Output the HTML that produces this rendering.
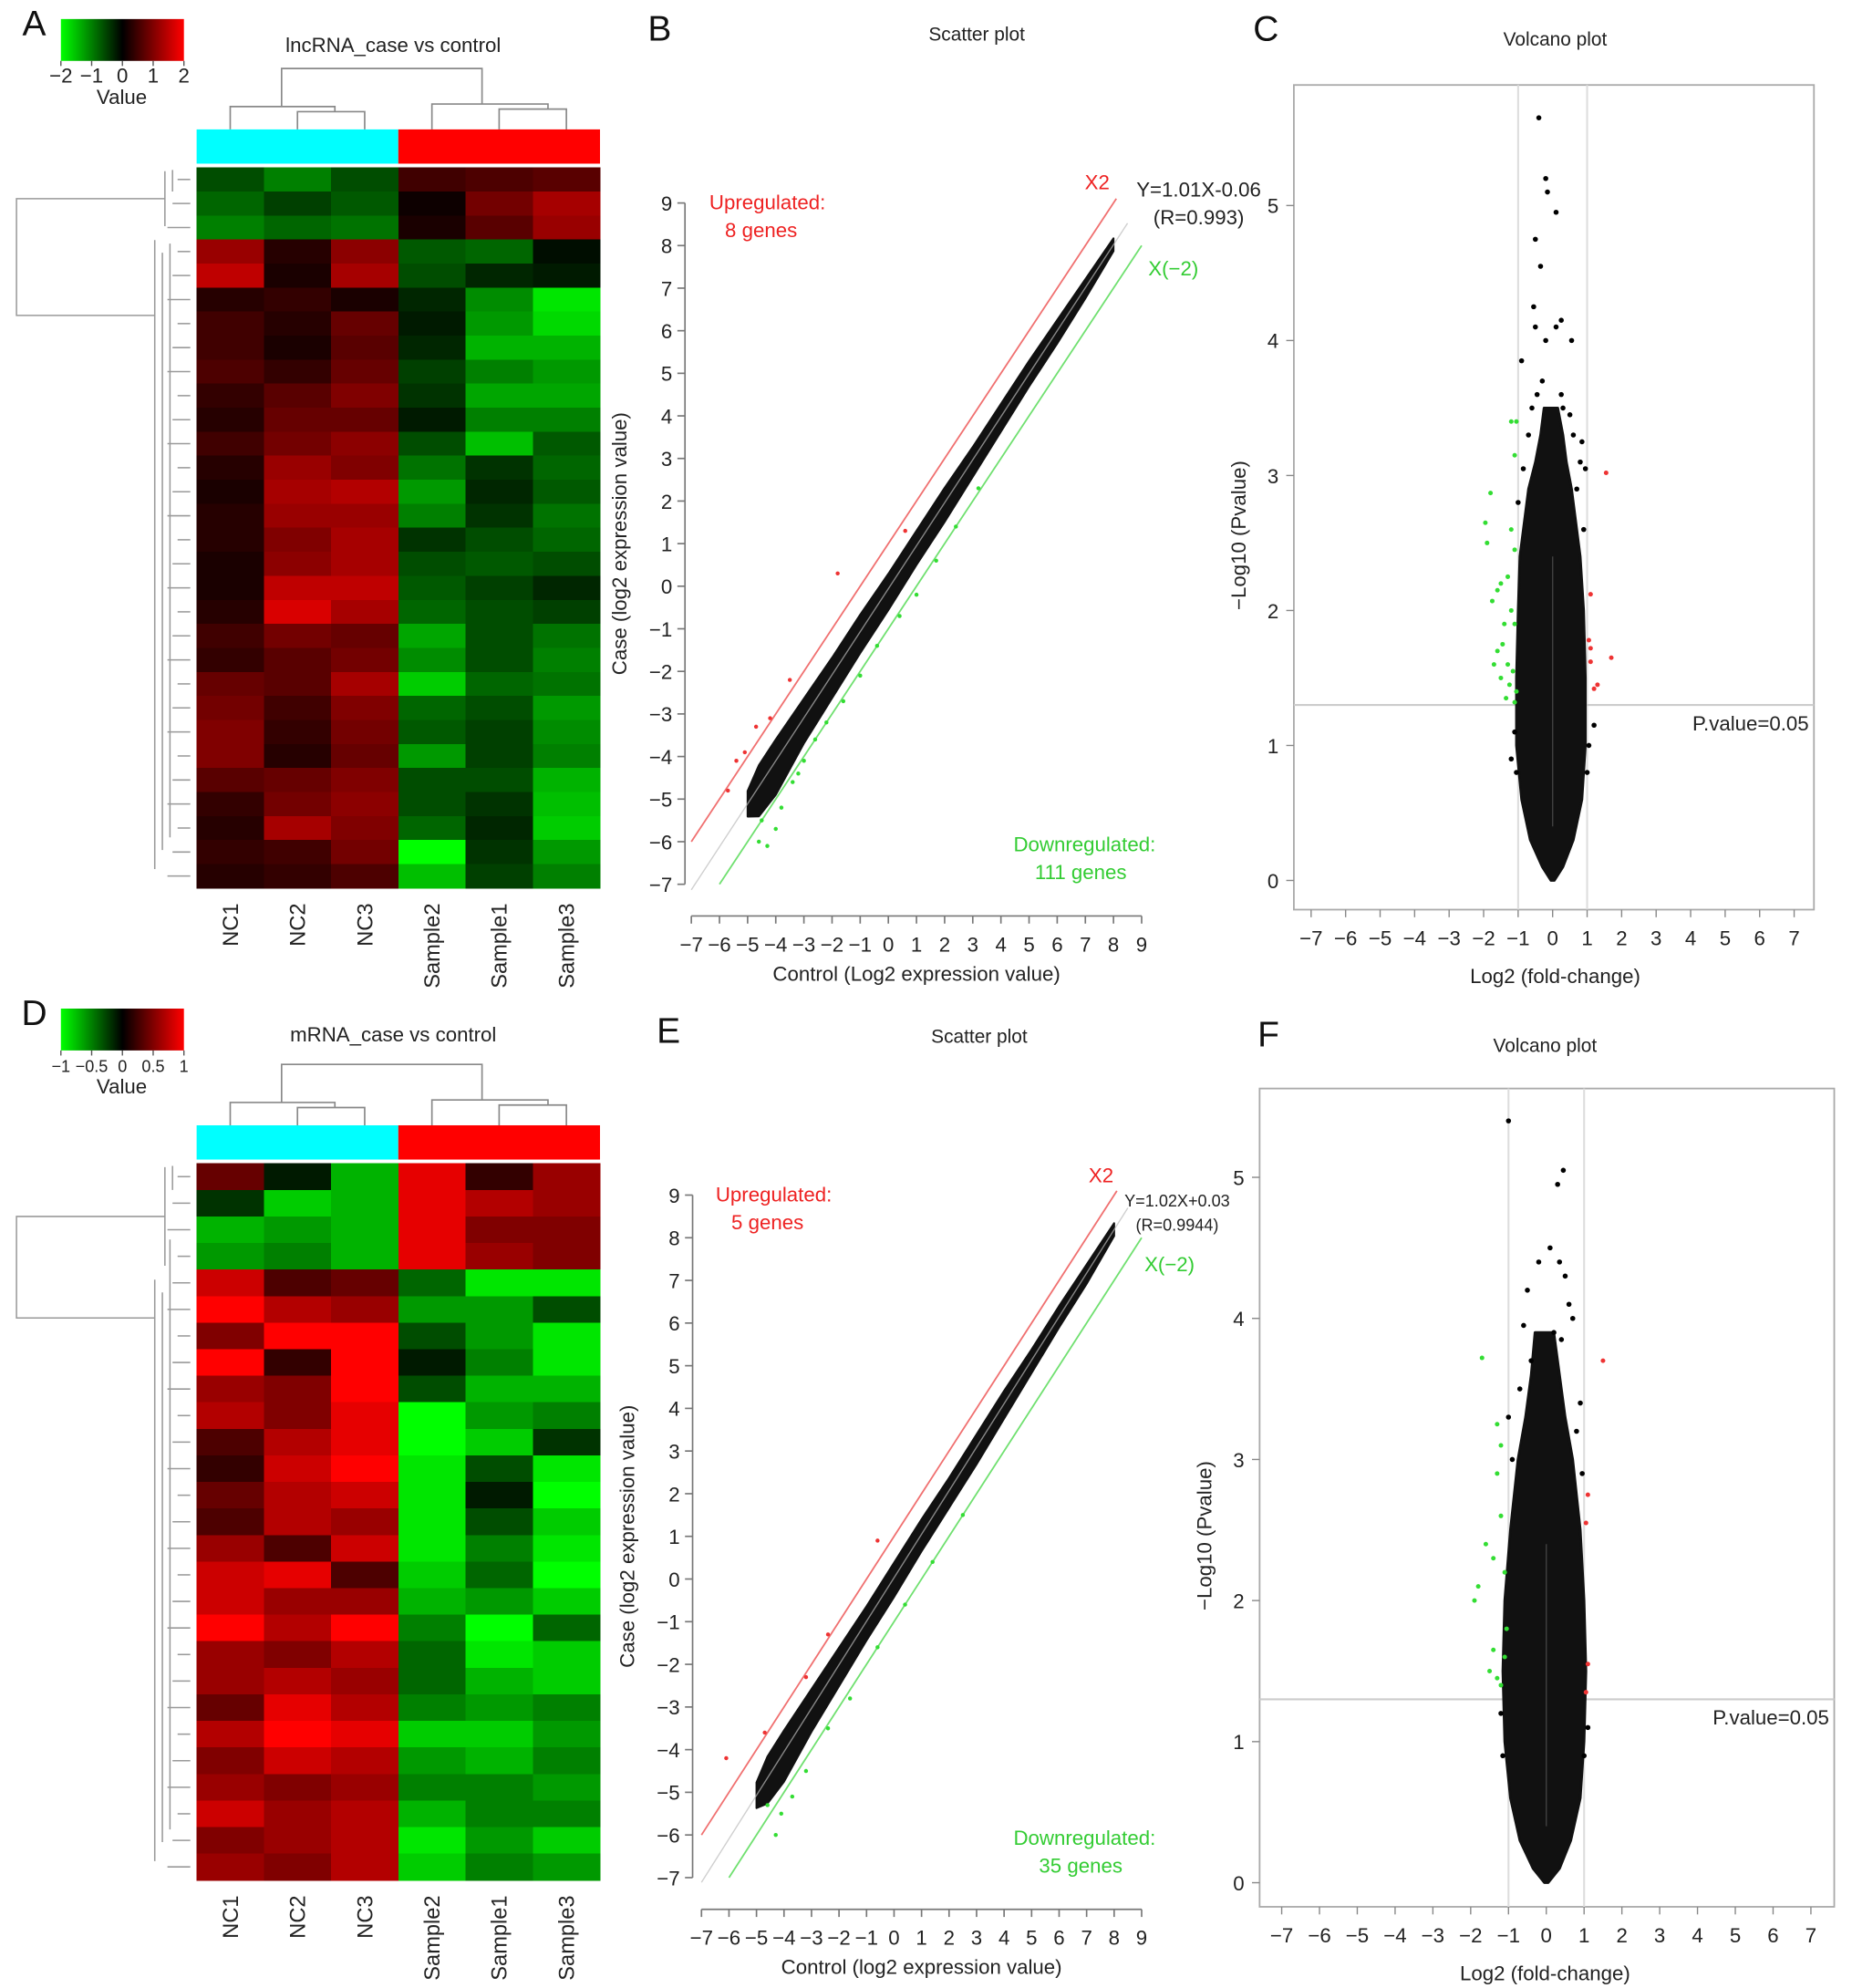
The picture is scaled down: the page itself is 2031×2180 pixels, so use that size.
<!DOCTYPE html>
<html><head><meta charset="utf-8"><style>
html,body{margin:0;padding:0;background:#fff}
svg{display:block;font-family:"Liberation Sans",sans-serif}
</style></head><body>
<svg id="fig" width="2031" height="2180" viewBox="0 0 1460 1567" preserveAspectRatio="none" xmlns="http://www.w3.org/2000/svg">
<rect width="1460" height="1567" fill="#fff"/>
<g id="root"></g>
</svg>
<script>
// ---------- DATA ----------
const heatCols = ["NC1","NC2","NC3","Sample2","Sample1","Sample3"];
const heatA = [
[-0.6,-1.0,-0.6,0.5,0.6,0.7],[-0.8,-0.5,-0.7,0.1,0.9,1.3],[-1.0,-0.8,-0.9,0.2,0.7,1.2],
[1.2,0.3,1.1,-0.7,-0.8,-0.1],[1.5,0.2,1.3,-0.6,-0.3,-0.2],[0.3,0.4,0.2,-0.3,-1.1,-1.8],
[0.5,0.3,0.8,-0.2,-1.2,-1.7],[0.5,0.2,0.7,-0.3,-1.4,-1.4],[0.6,0.4,0.8,-0.5,-1.0,-1.2],
[0.4,0.7,1.0,-0.4,-1.3,-1.3],[0.3,0.8,0.8,-0.2,-1.0,-1.0],[0.5,0.9,1.1,-0.6,-1.5,-0.7],
[0.3,1.2,1.0,-0.9,-0.4,-0.8],[0.2,1.3,1.4,-1.2,-0.3,-0.7],[0.3,1.2,1.2,-1.0,-0.4,-0.9],
[0.3,1.0,1.3,-0.4,-0.6,-0.8],[0.2,1.1,1.3,-0.6,-0.7,-0.6],[0.2,1.5,1.5,-0.7,-0.5,-0.3],
[0.3,1.7,1.3,-0.8,-0.6,-0.5],[0.5,0.9,0.8,-1.3,-0.6,-0.9],[0.4,0.7,0.9,-1.1,-0.6,-1.0],
[0.8,0.7,1.3,-1.6,-0.8,-0.9],[0.9,0.5,1.0,-0.8,-0.6,-1.2],[1.0,0.4,0.9,-0.7,-0.5,-1.1],
[1.0,0.3,0.8,-1.2,-0.5,-1.0],[0.7,0.8,1.0,-0.6,-0.6,-1.4],[0.4,0.9,1.1,-0.6,-0.4,-1.5],
[0.3,1.3,1.0,-0.8,-0.3,-1.6],[0.4,0.5,0.9,-2.0,-0.4,-1.2],[0.3,0.4,0.6,-1.5,-0.5,-1.0]];
const heatD = [
[0.4,-0.1,-0.7,0.9,0.2,0.6],[-0.2,-0.8,-0.7,0.9,0.7,0.6],[-0.7,-0.6,-0.7,0.9,0.5,0.5],
[-0.6,-0.5,-0.7,0.9,0.6,0.5],[0.8,0.3,0.4,-0.4,-0.9,-0.9],[1.0,0.7,0.6,-0.6,-0.6,-0.3],
[0.5,1.0,1.0,-0.3,-0.6,-0.9],[1.0,0.2,1.0,-0.1,-0.5,-0.9],[0.6,0.5,1.0,-0.3,-0.7,-0.7],
[0.7,0.5,0.9,-1.0,-0.6,-0.5],[0.3,0.7,0.9,-1.0,-0.8,-0.2],[0.2,0.8,1.0,-0.9,-0.3,-0.9],
[0.4,0.7,0.8,-0.9,-0.1,-1.0],[0.3,0.7,0.6,-0.9,-0.3,-0.8],[0.6,0.3,0.8,-0.9,-0.5,-0.9],
[0.8,0.9,0.3,-0.8,-0.4,-1.0],[0.8,0.6,0.6,-0.7,-0.6,-0.8],[1.0,0.7,1.0,-0.5,-1.0,-0.4],
[0.6,0.5,0.7,-0.4,-0.9,-0.8],[0.6,0.7,0.6,-0.4,-0.7,-0.8],[0.4,0.9,0.7,-0.5,-0.6,-0.5],
[0.7,1.0,0.9,-0.8,-0.8,-0.6],[0.5,0.8,0.7,-0.6,-0.7,-0.5],[0.6,0.5,0.6,-0.5,-0.5,-0.6],
[0.8,0.6,0.7,-0.7,-0.5,-0.5],[0.5,0.6,0.7,-0.9,-0.6,-0.8],[0.6,0.5,0.7,-0.8,-0.5,-0.6]];
const legendTicksA = ["−2","−1","0","1","2"];
const legendTicksD = ["−1","−0.5","0","0.5","1"];
const scatterTicks = [-7,-6,-5,-4,-3,-2,-1,0,1,2,3,4,5,6,7,8,9];
const cloudXB = [-5.0,-4.6,-4,-3,-2,-1,0,1,2,3,4,5,6,7,8];
const cloudLoB = [-0.3,-0.7,-0.8,-0.6,-0.55,-0.5,-0.5,-0.45,-0.45,-0.4,-0.35,-0.3,-0.3,-0.25,-0.15];
const cloudHiB = [0.3,0.5,0.5,0.45,0.4,0.4,0.35,0.35,0.35,0.3,0.3,0.3,0.25,0.2,0.15];
const redB = [[-5.7,-4.8],[-5.4,-4.1],[-5.1,-3.9],[-4.7,-3.3],[-4.2,-3.1],[-3.5,-2.2],[-1.8,0.3],[0.6,1.3]];
const greenB = [[-4.6,-6.0],[-4.3,-6.1],[-4.0,-5.7],[-3.8,-5.2],[-3.4,-4.6],[-3.0,-4.1],[-2.6,-3.6],[-2.2,-3.2],[-1.6,-2.7],[-1.0,-2.1],[-0.4,-1.4],[0.4,-0.7],[1.0,-0.2],[1.7,0.6],[2.4,1.4],[3.2,2.3],[-3.2,-4.4],[-4.5,-5.5]];
const cloudXE = [-5.0,-4.6,-4,-3,-2,-1,0,1,2,3,4,5,6,7,8];
const cloudLoE = [-0.3,-0.6,-0.7,-0.55,-0.5,-0.45,-0.45,-0.4,-0.4,-0.4,-0.35,-0.3,-0.25,-0.25,-0.15];
const cloudHiE = [0.3,0.5,0.5,0.45,0.4,0.35,0.35,0.35,0.3,0.3,0.3,0.25,0.25,0.2,0.15];
const redE = [[-6.1,-4.2],[-4.7,-3.6],[-3.2,-2.3],[-2.4,-1.3],[-0.6,0.9]];
const greenE = [[-4.3,-6.0],[-4.1,-5.5],[-3.7,-5.1],[-3.2,-4.5],[-2.4,-3.5],[-1.6,-2.8],[-0.6,-1.6],[0.4,-0.6],[1.4,0.4],[2.5,1.5],[-4.6,-5.3]];
const volcXTicks = [-7,-6,-5,-4,-3,-2,-1,0,1,2,3,4,5,6,7];
const volcYTicks = [0,1,2,3,4,5];
const volcHC = [0,0.1,0.3,0.6,1.0,1.5,2.0,2.4,2.7,2.9,3.1,3.3,3.5];
const volcLC = [-0.05,-0.3,-0.65,-0.9,-1.05,-1.05,-1.0,-0.95,-0.8,-0.7,-0.5,-0.35,-0.25];
const volcRC = [0.05,0.3,0.6,0.85,0.95,0.95,0.9,0.8,0.65,0.55,0.4,0.3,0.15];
const topC = [[-0.4,5.65],[-0.2,5.2],[-0.15,5.1],[0.1,4.95],[-0.5,4.75],[-0.35,4.55],[-0.55,4.25],[0.25,4.15],[0.1,4.1],[-0.5,4.1],[0.55,4.0],[-0.2,4.0],[-0.9,3.85],[0.25,3.6],[-0.45,3.6],[0.3,3.5],[0.85,3.25],[0.95,3.05],[0.6,3.3],[-0.7,3.3],[0.8,3.1],[-0.85,3.05],[-0.6,3.5],[0.5,3.45],[-0.3,3.7],[0.7,2.9],[-1.0,2.8],[0.9,2.6],[-1.1,1.1],[-1.2,0.9],[1.05,1.0],[1.2,1.15],[-1.05,0.8],[1.0,0.8]];
const redC = [[1.55,3.02],[1.1,2.12],[1.05,1.78],[1.1,1.72],[1.7,1.65],[1.1,1.62],[1.2,1.42],[1.3,1.45]];
const greenC = [[-1.2,3.4],[-1.05,3.4],[-1.1,3.15],[-1.8,2.87],[-1.95,2.65],[-1.9,2.5],[-1.2,2.6],[-1.1,2.45],[-1.5,2.2],[-1.3,2.25],[-1.75,2.07],[-1.6,2.15],[-1.2,2.0],[-1.1,1.9],[-1.45,1.75],[-1.6,1.7],[-1.3,1.6],[-1.15,1.55],[-1.5,1.5],[-1.25,1.45],[-1.05,1.4],[-1.35,1.35],[-1.1,1.32],[-1.7,1.6],[-1.4,1.9]];
const volcHF = [0,0.1,0.3,0.6,1.0,1.5,2.0,2.5,3.0,3.3,3.6,3.9];
const volcLF = [-0.05,-0.35,-0.7,-0.95,-1.1,-1.15,-1.1,-0.95,-0.75,-0.55,-0.4,-0.3];
const volcRF = [0.05,0.35,0.65,0.9,1.0,1.05,1.0,0.9,0.7,0.5,0.35,0.2];
const topF = [[-1.0,5.4],[0.45,5.05],[0.3,4.95],[0.1,4.5],[0.35,4.4],[0.5,4.3],[-0.5,4.2],[-0.2,4.4],[0.6,4.1],[-0.6,3.95],[0.2,3.9],[0.7,4.0],[-0.4,3.7],[0.4,3.85],[-1.0,3.3],[0.9,3.4],[-0.7,3.5],[0.8,3.2],[-0.9,3.0],[0.95,2.9],[-1.2,1.2],[1.1,1.1],[-1.15,0.9],[1.0,0.9]];
const redF = [[1.5,3.7],[1.1,2.75],[1.05,2.55],[1.1,1.55],[1.05,1.35]];
const greenF = [[-1.7,3.72],[-1.2,3.1],[-1.3,2.9],[-1.9,2.0],[-1.8,2.1],[-1.4,2.3],[-1.1,1.6],[-1.5,1.5],[-1.3,1.45],[-1.2,2.6],[-1.05,1.8],[-1.4,1.65],[-1.2,1.4],[-1.6,2.4],[-1.1,2.2],[-1.3,3.25]];

// ---------- helpers ----------
const NS="http://www.w3.org/2000/svg";
const root=document.getElementById('root');
function mk(tag,attrs,parent,text){const e=document.createElementNS(NS,tag);for(const k in attrs)e.setAttribute(k,attrs[k]);if(text!==undefined)e.textContent=text;(parent||root).appendChild(e);return e;}
function txt(x,y,s,size,fill,parent,anchor,extra){return mk('text',Object.assign({x:x,y:y,'font-size':size,fill:fill||'#222','text-anchor':anchor||'middle'},extra||{}),parent,s);}
function heatColor(v,max){let t=Math.max(-1,Math.min(1,v/max));if(t>=0)return `rgb(${Math.round(255*t)},0,0)`;return `rgb(0,${Math.round(255*-t)},0)`;}

// ---------- heatmap panel ----------
function heatPanel(data,max,y0,top,hh,title,letter,legTicks,prefix,splitRows){
  const g=mk('g',{});
  
  
  txt(27,y0-7,letter,28,'#111',g);
  const lg=mk('g',{},g);
  
  
  const gid=prefix+'grad';
  const defs=mk('defs',{},lg);const lin=mk('linearGradient',{id:gid},defs);
  mk('stop',{offset:'0','stop-color':'#00ff00'},lin);mk('stop',{offset:'0.5','stop-color':'#000'},lin);mk('stop',{offset:'1','stop-color':'#ff0000'},lin);
  mk('rect',{x:48,y:y0-20,width:97,height:33,fill:`url(#${gid})`},lg);
  legTicks.forEach((s,i)=>{const x=48+i*97/(legTicks.length-1);mk('line',{x1:x,x2:x,y1:y0+13,y2:y0+17,stroke:'#555'},lg);txt(x,y0+30,s,prefix==='d'?13:16,'#222',lg);});
  txt(96,y0+47,'Value',16,'#222',lg);
  const T=txt(310,y0+6,title,16,'#222',g);
  
  
  const hx=155, hw=318, cw=hw/6;
  const cc=i=>hx+cw*(i+0.5);
  const dg=mk('g',{stroke:'#888',fill:'none','stroke-width':1.2},g);
  
  
  const bt=top-30;
  mk('path',{d:`M222 ${bt-18}V${bt-48}H380V${bt-20}`},dg);
  mk('path',{d:`M${cc(0)} ${bt}V${bt-18}H264V${bt-14}`},dg);
  mk('path',{d:`M${cc(1)} ${bt}V${bt-14}H${cc(2)}V${bt}`},dg);
  mk('path',{d:`M${cc(3)} ${bt}V${bt-20}H432V${bt-16}`},dg);
  mk('path',{d:`M${cc(4)} ${bt}V${bt-16}H${cc(5)}V${bt}`},dg);
  const cb=mk('rect',{x:hx,y:bt,width:hw/2,height:27,fill:'#00ffff'},g);
  
  
  const rb=mk('rect',{x:hx+hw/2,y:bt,width:hw/2,height:27,fill:'#ff0000'},g);
  
  
  const rh=hh/data.length;
  const cg=mk('g',{'shape-rendering':'crispEdges'},g);
  
  
  data.forEach((row,r)=>row.forEach((v,c)=>{
    const cell=mk('rect',{x:hx+c*cw,y:top+r*rh,width:cw+0.5,height:rh+0.5,fill:heatColor(v,max)},cg);
    
    
  }));
  const rg=mk('g',{stroke:'#999',fill:'none','stroke-width':1.1},g);
  
  
  const topMid=top+rh*splitRows/2, restTop=top+rh*splitRows+8;
  mk('path',{d:`M130 ${topMid}H13V${topMid+(prefix==='a'?92:80)}H122`},rg);
  for(let r=0;r<data.length;r++){const y=top+(r+0.5)*rh;mk('path',{d:`M${150} ${y}H${140-(r%3)*4}`},rg);}
  mk('path',{d:`M122 ${restTop}V${top+hh-15}M128 ${restTop+10}V${top+hh-30}M134 ${top+60}V${top+hh-40}`},rg);
  mk('path',{d:`M130 ${top+3}V${top+rh*splitRows-3}M136 ${top+2}V${top+rh}`},rg);
  heatCols.forEach((s,i)=>{const t=txt(0,0,s,17,'#222',g,'end',{transform:`translate(${cc(i)+6},${top+hh+12}) rotate(-90)`});
    
    });
}
heatPanel(heatA,2,35,132,568,'lncRNA_case vs control','A',legendTicksA,'a',2.6);
heatPanel(heatD,1,815,917,565,'mRNA_case vs control','D',legendTicksD,'d',4);

// ---------- scatter ----------
function scatterPanel(cfg){
  const g=mk('g',{});
  
  
  const X=v=>cfg.x0+(v+7)*(cfg.x1-cfg.x0)/16;
  const Y=v=>cfg.y0-(v+7)*(cfg.y0-cfg.y1)/16;
  txt(cfg.lx,cfg.ly,cfg.letter,28,'#111',g);
  txt(cfg.tx,cfg.ly,'Scatter plot',15,'#222',g);
  const ax=mk('g',{stroke:'#777','stroke-width':1.2},g);
  
  
  mk('line',{x1:cfg.ax,x2:cfg.ax,y1:Y(-7),y2:Y(9)},ax);
  mk('line',{x1:X(-7),x2:X(9),y1:cfg.ay,y2:cfg.ay},ax);
  scatterTicks.forEach(v=>{
    mk('line',{x1:cfg.ax,x2:cfg.ax-6,y1:Y(v),y2:Y(v)},ax);
    mk('line',{x1:X(v),x2:X(v),y1:cfg.ay,y2:cfg.ay+6},ax);
    const yl=txt(cfg.ax-10,Y(v)+6,v<0?'−'+(-v):String(v),16,'#222',g,'end');
    
    
    const xl=txt(X(v),cfg.ay+28,v<0?'−'+(-v):String(v),16,'#222',g);
    
    
  });
  const xt=txt((X(-7)+X(9))/2,cfg.ay+51,cfg.xtitle,16,'#222',g);
  
  
  const yt=txt(0,0,'Case (log2 expression value)',16,'#222',g,'middle',{transform:`translate(${cfg.ax-46},${(Y(-7)+Y(9))/2}) rotate(-90)`});
  
  
  const red=mk('line',{x1:X(-7),y1:Y(-6),x2:X(8.1),y2:Y(9.1),stroke:'#f07070','stroke-width':1.3},g);
  
  
  const grn=mk('line',{x1:X(-6),y1:Y(-7),x2:X(9),y2:Y(8),stroke:'#70e070','stroke-width':1.3},g);
  
  
  const a=cfg.slope,b=cfg.icpt;
  let pts=cfg.cx.map((x,i)=>`${X(x)},${Y(a*x+b+cfg.hi[i])}`);
  for(let i=cfg.cx.length-1;i>=0;i--)pts.push(`${X(cfg.cx[i])},${Y(a*cfg.cx[i]+b+cfg.lo[i])}`);
  const cl=mk('polygon',{points:pts.join(' '),fill:'#111',stroke:'#111','stroke-width':1.5,'stroke-linejoin':'round'},g);
  
  
  const fit=mk('line',{x1:X(-7),y1:Y(-7*a+b),x2:X(8.5),y2:Y(8.5*a+b),stroke:'#bbb','stroke-width':1,opacity:0.7},g);
  
  
  cfg.green.forEach(p=>{const c=mk('circle',{cx:X(p[0]),cy:Y(p[1]),r:1.6,fill:'#33dd33'},g);
    
    });
  cfg.red.forEach(p=>{const c=mk('circle',{cx:X(p[0]),cy:Y(p[1]),r:1.6,fill:'#ee3333'},g);
    
    });
  txt(cfg.upx,Y(9)+5,'Upregulated:',16,'#ee2222',g);
  txt(cfg.upx-5,Y(9)+27,cfg.up,16,'#ee2222',g);
  txt(cfg.x2x,cfg.x2y,'X2',16,'#ee2222',g);
  txt(cfg.eqx,cfg.eqy,cfg.eq,cfg.eqs,'#222',g);
  txt(cfg.eqx,cfg.eqy+cfg.eqgap,cfg.r,cfg.eqs,'#222',g);
  txt(cfg.gx,cfg.gy,'X(−2)',16,'#33cc33',g);
  txt(cfg.dx,cfg.dy,'Downregulated:',16,'#33cc33',g);
  txt(cfg.dx-3,cfg.dy+22,cfg.down,16,'#33cc33',g);
}
scatterPanel({p:'b',letter:'B',lx:520,ly:32,tx:770,x0:545,x1:900,y0:697,y1:160,ax:540,ay:722,
  xtitle:'Control (Log2 expression value)',slope:1.01,icpt:-0.06,cx:cloudXB,lo:cloudLoB,hi:cloudHiB,
  red:redB,green:greenB,upx:605,up:'8 genes',x2x:865,x2y:149,eqx:945,eqy:155,eqgap:22,eq:'Y=1.01X-0.06',r:'(R=0.993)',eqs:16,
  gx:925,gy:217,dx:855,dy:671,down:'111 genes'});
scatterPanel({p:'e',letter:'E',lx:527,ly:822,tx:772,x0:553,x1:900,y0:1480,y1:942,ax:546,ay:1505,
  xtitle:'Control (log2 expression value)',slope:1.02,icpt:0.03,cx:cloudXE,lo:cloudLoE,hi:cloudHiE,
  red:redE,green:greenE,upx:610,up:'5 genes',x2x:868,x2y:932,eqx:928,eqy:951,eqgap:19,eq:'Y=1.02X+0.03',r:'(R=0.9944)',eqs:13,
  gx:922,gy:1002,dx:855,dy:1454,down:'35 genes'});

// ---------- volcano ----------
function volcanoPanel(cfg){
  const g=mk('g',{});
  
  
  const X=v=>cfg.zx+v*cfg.ux, Y=v=>cfg.zy-v*cfg.uy;
  txt(cfg.lx,cfg.ly,cfg.letter,28,'#111',g);
  txt(cfg.tx,cfg.ly+4,'Volcano plot',15,'#222',g);
  const box=mk('rect',{x:cfg.bx0,y:cfg.by0,width:cfg.bx1-cfg.bx0,height:cfg.by1-cfg.by0,fill:'none',stroke:'#aaa','stroke-width':1.3},g);
  
  
  volcXTicks.forEach(v=>{mk('line',{x1:X(v),x2:X(v),y1:cfg.by1,y2:cfg.by1+6,stroke:'#888'},g);
    const t=txt(X(v),cfg.by1+28,v<0?'−'+(-v):String(v),16,'#222',g);
    
    });
  volcYTicks.forEach(v=>{mk('line',{x1:cfg.bx0,x2:cfg.bx0-6,y1:Y(v),y2:Y(v),stroke:'#888'},g);
    const t=txt(cfg.bx0-12,Y(v)+6,String(v),16,'#222',g,'end');
    
    });
  const xt=txt(cfg.tx,cfg.by1+58,'Log2 (fold-change)',16,'#222',g);
  
  
  const yt=txt(0,0,'−Log10 (Pvalue)',16,'#222',g,'middle',{transform:`translate(${cfg.bx0-38},${(cfg.by0+cfg.by1)/2+30}) rotate(-90)`});
  
  
  [-1,1].forEach(v=>{const l=mk('line',{x1:X(v),x2:X(v),y1:cfg.by0,y2:cfg.by1,stroke:'#ddd','stroke-width':1.5},g);
    
    });
  const hl=mk('line',{x1:cfg.bx0,x2:cfg.bx1,y1:Y(1.3),y2:Y(1.3),stroke:'#ccc','stroke-width':1.5},g);
  
  
  let pts=cfg.h.map((h,i)=>`${X(cfg.l[i])},${Y(h)}`);
  for(let i=cfg.h.length-1;i>=0;i--)pts.push(`${X(cfg.r[i])},${Y(cfg.h[i])}`);
  const cl=mk('polygon',{points:pts.join(' '),fill:'#111',stroke:'#111','stroke-width':2,'stroke-linejoin':'round'},g);
  
  
  mk('line',{x1:X(0),x2:X(0),y1:Y(0.4),y2:Y(2.4),stroke:'#888','stroke-width':1,opacity:0.4},g);
  cfg.top.forEach(p=>{const c=mk('circle',{cx:X(p[0]),cy:Y(p[1]),r:2,fill:'#000'},g);
    
    });
  cfg.green.forEach(p=>{const c=mk('circle',{cx:X(p[0]),cy:Y(p[1]),r:1.8,fill:'#33dd33'},g);
    
    });
  cfg.red.forEach(p=>{const c=mk('circle',{cx:X(p[0]),cy:Y(p[1]),r:1.8,fill:'#ee3333'},g);
    
    });
  const pl=txt(cfg.bx1-4,Y(1.3)+20,'P.value=0.05',16,'#222',g,'end');
  
  
}
volcanoPanel({p:'c',letter:'C',lx:998,ly:32,tx:1226,bx0:1020,bx1:1430,by0:67,by1:717,zx:1224,ux:27.2,zy:694,uy:106.4,
  h:volcHC,l:volcLC,r:volcRC,top:topC,red:redC,green:greenC});
volcanoPanel({p:'f',letter:'F',lx:1000,ly:825,tx:1218,bx0:993,bx1:1446,by0:858,by1:1503,zx:1219,ux:29.8,zy:1484,uy:111.2,
  h:volcHF,l:volcLF,r:volcRF,top:topF,red:redF,green:greenF});
</script>
</body></html>
